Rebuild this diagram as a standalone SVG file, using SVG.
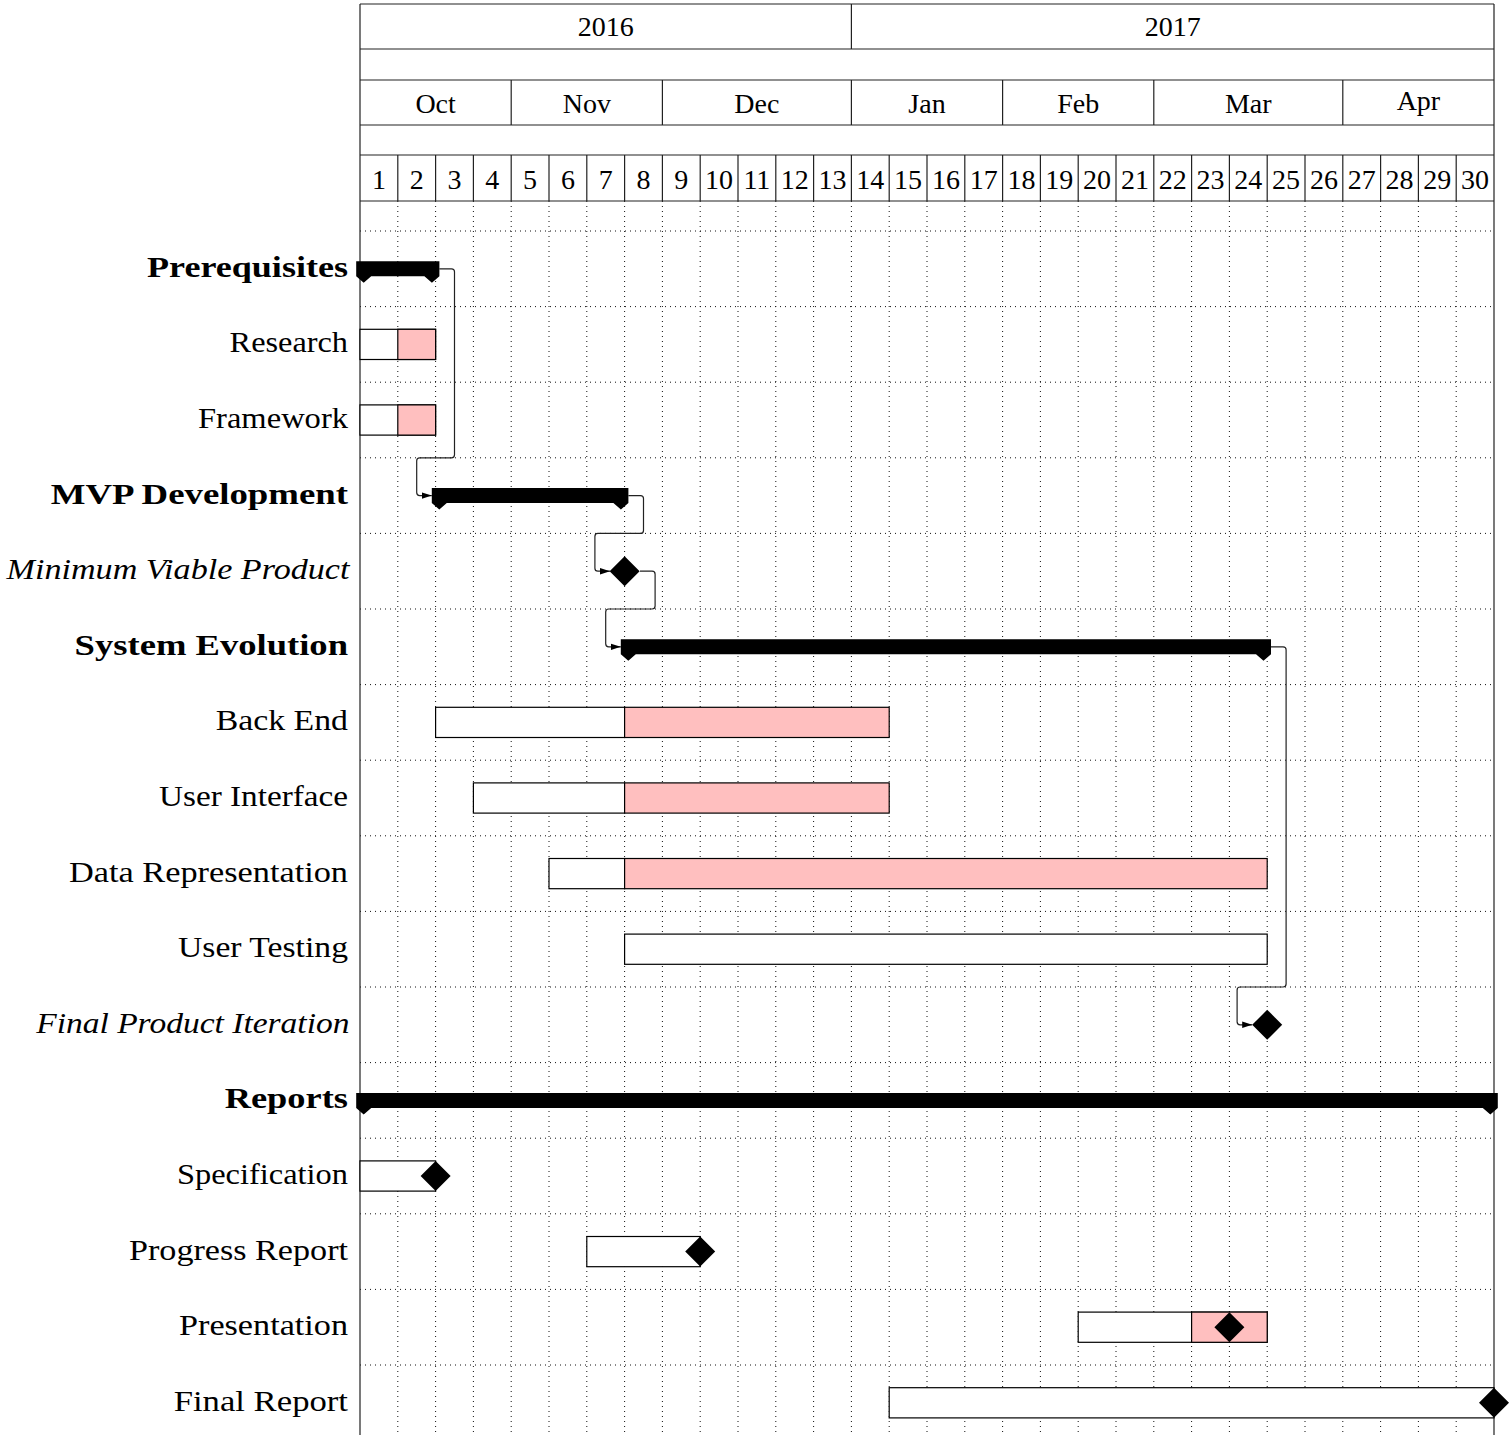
<svg xmlns="http://www.w3.org/2000/svg" xmlns:xlink="http://www.w3.org/1999/xlink" width="1512" height="1435" viewBox="0 0 1512 1435">
<style>
.frame{fill:none;stroke:#222;stroke-width:1.2}
.grid{fill:none;stroke:#111;stroke-width:1;stroke-dasharray:1 4}
.hdr{font-family:"Liberation Serif","Times New Roman",serif;font-size:28px;fill:#000;text-anchor:middle}
.lbl{font-family:"Liberation Serif","Times New Roman",serif;font-size:30px;fill:#000;text-anchor:end}
.grp{font-weight:bold}
.ms{font-style:italic}
.bar{fill:#fff;stroke:#000;stroke-width:1.2}
.prog{fill:#ffbfbf;stroke:#000;stroke-width:1.2}
.gbar{fill:#000;stroke:none}
.dia{fill:#000}
.link{fill:none;stroke:#222;stroke-width:1.2;marker-end:url(#arr)}
</style>
<defs>
<marker id="arr" markerUnits="userSpaceOnUse" markerWidth="11" markerHeight="8" refX="10" refY="4" orient="auto">
<path d="M0,0.8 L10,4 L0,7.2 Z" fill="#000"/>
</marker>
<path id="diamond" d="M-15 0 L0 -15 L15 0 L0 15 Z"/>
</defs>
<rect width="1512" height="1435" fill="#fff"/>

<g id="grid">
<path class="grid" d="M397.8 201V1435M435.6 201V1435M473.4 201V1435M511.2 201V1435M549 201V1435M586.8 201V1435M624.6 201V1435M662.4 201V1435M700.2 201V1435M738 201V1435M775.8 201V1435M813.6 201V1435M851.4 201V1435M889.2 201V1435M927 201V1435M964.8 201V1435M1002.6 201V1435M1040.4 201V1435M1078.2 201V1435M1116 201V1435M1153.8 201V1435M1191.6 201V1435M1229.4 201V1435M1267.2 201V1435M1305 201V1435M1342.8 201V1435M1380.6 201V1435M1418.4 201V1435M1456.2 201V1435"/>
<path class="grid" d="M360 231H1494M360 306.6H1494M360 382.2H1494M360 457.8H1494M360 533.4H1494M360 609H1494M360 684.6H1494M360 760.2H1494M360 835.8H1494M360 911.4H1494M360 987H1494M360 1062.6H1494M360 1138.2H1494M360 1213.8H1494M360 1289.4H1494M360 1365H1494"/>
</g>

<g id="header">
<path class="frame" d="M360 4H1494M360 49H1494M851.4 4V49M360 80H1494M360 125H1494M511.2 80V125M662.4 80V125M851.4 80V125M1002.6 80V125M1153.8 80V125M1342.8 80V125M360 155H1494M360 201H1494"/>
<path class="frame" d="M397.8 155V201M435.6 155V201M473.4 155V201M511.2 155V201M549 155V201M586.8 155V201M624.6 155V201M662.4 155V201M700.2 155V201M738 155V201M775.8 155V201M813.6 155V201M851.4 155V201M889.2 155V201M927 155V201M964.8 155V201M1002.6 155V201M1040.4 155V201M1078.2 155V201M1116 155V201M1153.8 155V201M1191.6 155V201M1229.4 155V201M1267.2 155V201M1305 155V201M1342.8 155V201M1380.6 155V201M1418.4 155V201M1456.2 155V201"/>
<path class="frame" d="M360 4V1435M1494 4V1435"/>
<text class="hdr" x="605.7" y="36">2016</text>
<text class="hdr" x="1172.7" y="36">2017</text>
<text class="hdr" x="435.6" y="113">Oct</text>
<text class="hdr" x="586.8" y="113">Nov</text>
<text class="hdr" x="756.9" y="113">Dec</text>
<text class="hdr" x="927" y="113">Jan</text>
<text class="hdr" x="1078.2" y="113">Feb</text>
<text class="hdr" x="1248.3" y="113">Mar</text>
<text class="hdr" x="1418.4" y="110">Apr</text>
<text class="hdr" x="378.9" y="189">1</text>
<text class="hdr" x="416.7" y="189">2</text>
<text class="hdr" x="454.5" y="189">3</text>
<text class="hdr" x="492.3" y="189">4</text>
<text class="hdr" x="530.1" y="189">5</text>
<text class="hdr" x="567.9" y="189">6</text>
<text class="hdr" x="605.7" y="189">7</text>
<text class="hdr" x="643.5" y="189">8</text>
<text class="hdr" x="681.3" y="189">9</text>
<text class="hdr" x="719.1" y="189">10</text>
<text class="hdr" x="756.9" y="189">11</text>
<text class="hdr" x="794.7" y="189">12</text>
<text class="hdr" x="832.5" y="189">13</text>
<text class="hdr" x="870.3" y="189">14</text>
<text class="hdr" x="908.1" y="189">15</text>
<text class="hdr" x="945.9" y="189">16</text>
<text class="hdr" x="983.7" y="189">17</text>
<text class="hdr" x="1021.5" y="189">18</text>
<text class="hdr" x="1059.3" y="189">19</text>
<text class="hdr" x="1097.1" y="189">20</text>
<text class="hdr" x="1134.9" y="189">21</text>
<text class="hdr" x="1172.7" y="189">22</text>
<text class="hdr" x="1210.5" y="189">23</text>
<text class="hdr" x="1248.3" y="189">24</text>
<text class="hdr" x="1286.1" y="189">25</text>
<text class="hdr" x="1323.9" y="189">26</text>
<text class="hdr" x="1361.7" y="189">27</text>
<text class="hdr" x="1399.5" y="189">28</text>
<text class="hdr" x="1437.3" y="189">29</text>
<text class="hdr" x="1475.1" y="189">30</text>
</g>

<g id="connectors">
<path class="link" d="M439.4 268.8H451.5Q454.5 268.8 454.5 271.8V454.8Q454.5 457.8 451.5 457.8H419.7Q416.7 457.8 416.7 460.8V492.6Q416.7 495.6 419.7 495.6H431.8"/>
<path class="link" d="M628.4 495.6H640.5Q643.5 495.6 643.5 498.6V530.4Q643.5 533.4 640.5 533.4H597.9Q594.9 533.4 594.9 536.4V568.2Q594.9 571.2 597.9 571.2H610"/>
<path class="link" d="M640 571.2H652.1Q655.1 571.2 655.1 574.2V606Q655.1 609 652.1 609H608.7Q605.7 609 605.7 612V643.8Q605.7 646.8 608.7 646.8H620.8"/>
<path class="link" d="M1271 646.8H1283.1Q1286.1 646.8 1286.1 649.8V984Q1286.1 987 1283.1 987H1240.1Q1237.1 987 1237.1 990V1021.8Q1237.1 1024.8 1240.1 1024.8H1252.2"/>
</g>

<g id="prerequisites">
<text class="lbl grp" x="348" y="276.8" textLength="201" lengthAdjust="spacingAndGlyphs">Prerequisites</text>
<polygon class="gbar" points="356.2,261.3 439.4,261.3 439.4,276.3 431.9,282.8 424.4,276.3 371.2,276.3 363.7,282.8 356.2,276.3"/>
</g>
<g id="research">
<text class="lbl" x="348" y="352.4" textLength="118.4" lengthAdjust="spacingAndGlyphs">Research</text>
<rect class="bar" x="360" y="329.3" width="75.6" height="30.2"/>
<rect class="prog" x="397.8" y="329.3" width="37.8" height="30.2"/>
</g>
<g id="framework">
<text class="lbl" x="348" y="428" textLength="150" lengthAdjust="spacingAndGlyphs">Framework</text>
<rect class="bar" x="360" y="404.9" width="75.6" height="30.2"/>
<rect class="prog" x="397.8" y="404.9" width="37.8" height="30.2"/>
</g>
<g id="mvp-development">
<text class="lbl grp" x="348" y="503.6" textLength="297.3" lengthAdjust="spacingAndGlyphs">MVP Development</text>
<polygon class="gbar" points="431.8,488.1 628.4,488.1 628.4,503.1 620.9,509.6 613.4,503.1 446.8,503.1 439.3,509.6 431.8,503.1"/>
</g>
<g id="minimum-viable-product">
<text class="lbl ms" x="349.5" y="579.2" textLength="343" lengthAdjust="spacingAndGlyphs">Minimum Viable Product</text>
<use xlink:href="#diamond" class="dia" x="624.6" y="571.2"/>
</g>
<g id="system-evolution">
<text class="lbl grp" x="348" y="654.8" textLength="273.4" lengthAdjust="spacingAndGlyphs">System Evolution</text>
<polygon class="gbar" points="620.8,639.3 1271,639.3 1271,654.3 1263.5,660.8 1256,654.3 635.8,654.3 628.3,660.8 620.8,654.3"/>
</g>
<g id="back-end">
<text class="lbl" x="348" y="730.4" textLength="132.3" lengthAdjust="spacingAndGlyphs">Back End</text>
<rect class="bar" x="435.6" y="707.3" width="189" height="30.2"/>
<rect class="prog" x="624.6" y="707.3" width="264.6" height="30.2"/>
</g>
<g id="user-interface">
<text class="lbl" x="348" y="806" textLength="189" lengthAdjust="spacingAndGlyphs">User Interface</text>
<rect class="bar" x="473.4" y="782.9" width="151.2" height="30.2"/>
<rect class="prog" x="624.6" y="782.9" width="264.6" height="30.2"/>
</g>
<g id="data-representation">
<text class="lbl" x="348" y="881.6" textLength="279" lengthAdjust="spacingAndGlyphs">Data Representation</text>
<rect class="bar" x="549" y="858.5" width="75.6" height="30.2"/>
<rect class="prog" x="624.6" y="858.5" width="642.6" height="30.2"/>
</g>
<g id="user-testing">
<text class="lbl" x="348" y="957.2" textLength="170" lengthAdjust="spacingAndGlyphs">User Testing</text>
<rect class="bar" x="624.6" y="934.1" width="642.6" height="30.2"/>
</g>
<g id="final-product-iteration">
<text class="lbl ms" x="349.5" y="1032.8" textLength="313.3" lengthAdjust="spacingAndGlyphs">Final Product Iteration</text>
<use xlink:href="#diamond" class="dia" x="1267.2" y="1024.8"/>
</g>
<g id="reports">
<text class="lbl grp" x="348" y="1108.4" textLength="123.3" lengthAdjust="spacingAndGlyphs">Reports</text>
<polygon class="gbar" points="356.2,1092.9 1497.8,1092.9 1497.8,1107.9 1490.3,1114.4 1482.8,1107.9 371.2,1107.9 363.7,1114.4 356.2,1107.9"/>
</g>
<g id="specification">
<text class="lbl" x="348" y="1184" textLength="171" lengthAdjust="spacingAndGlyphs">Specification</text>
<rect class="bar" x="360" y="1160.9" width="75.6" height="30.2"/>
<use xlink:href="#diamond" class="dia" x="435.6" y="1176"/>
</g>
<g id="progress-report">
<text class="lbl" x="348" y="1259.6" textLength="219" lengthAdjust="spacingAndGlyphs">Progress Report</text>
<rect class="bar" x="586.8" y="1236.5" width="113.4" height="30.2"/>
<use xlink:href="#diamond" class="dia" x="700.2" y="1251.6"/>
</g>
<g id="presentation">
<text class="lbl" x="348" y="1335.2" textLength="169" lengthAdjust="spacingAndGlyphs">Presentation</text>
<rect class="bar" x="1078.2" y="1312.1" width="189" height="30.2"/>
<rect class="prog" x="1191.6" y="1312.1" width="75.6" height="30.2"/>
<use xlink:href="#diamond" class="dia" x="1229.4" y="1327.2"/>
</g>
<g id="final-report">
<text class="lbl" x="348" y="1410.8" textLength="174.3" lengthAdjust="spacingAndGlyphs">Final Report</text>
<rect class="bar" x="889.2" y="1387.7" width="604.8" height="30.2"/>
<use xlink:href="#diamond" class="dia" x="1494" y="1402.8"/>
</g>
</svg>
